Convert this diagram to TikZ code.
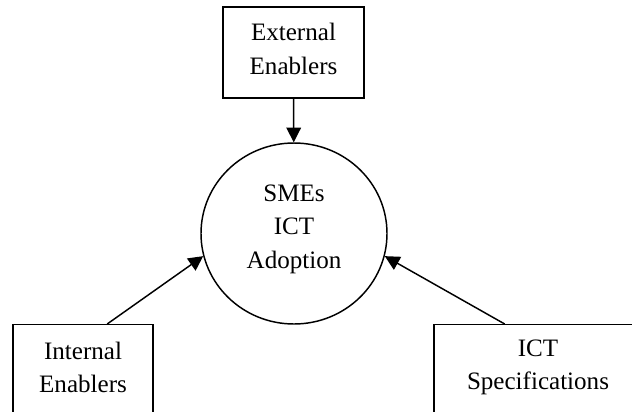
\documentclass[tikz,border=0pt]{standalone}
\usepackage{fontspec}
\setmainfont{Liberation Serif}
\usetikzlibrary{arrows.meta,shapes.geometric,calc}
\begin{document}
\begin{tikzpicture}[x=0.75pt,y=-0.75pt,
  lbl/.style={font=\fontsize{18.8}{25.1}\selectfont, align=center, inner sep=0pt},
  boxnode/.style={draw, line width=1.1pt, rectangle, inner sep=0pt},
  circnode/.style={draw, ellipse, line width=1.1pt, inner sep=0pt},
  conn/.style={line width=1.1pt, -{Triangle[length=11pt,width=11pt]}}]
\useasboundingbox (0,0) rectangle (632,411);
\clip (0,0) rectangle (632,411);
\node[boxnode, minimum width=105.75pt, minimum height=68.25pt,
  label={[lbl, yshift=2.6pt]center:External\\Enablers}] (ext) at (293.5,52.5) {};
\node[circnode, minimum width=139.5pt, minimum height=135.75pt,
  label={[lbl, yshift=3.4pt]center:SMEs\\ICT\\Adoption}] (c) at (294,233.5) {};
\node[boxnode, minimum width=105pt, minimum height=69pt, anchor=north,
  label={[lbl, yshift=2.6pt]center:Internal\\Enablers}] (ie) at (83,324) {};
\node[boxnode, minimum width=156pt, minimum height=69pt, anchor=north,
  label={[lbl, yshift=2.6pt]center:ICT\\Specifications}] (ict) at (538,324) {};
\coordinate (ietail) at ($(ie.north west)!0.671!(ie.north east)$);
\coordinate (icttail) at ($(ict.north west)!0.341!(ict.north east)$);
\draw[conn] (ext) -- (c);
\draw[conn] (ietail) -- (c.194);
\draw[conn] (icttail) -- (c.346);
\end{tikzpicture}
\end{document}
